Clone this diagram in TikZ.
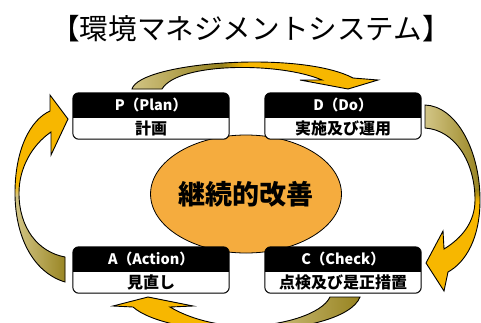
\documentclass[tikz,border=0pt]{standalone}
\usepackage{fontspec}
\newfontfamily\cjk{Noto Sans CJK JP}
\usetikzlibrary{shapes.geometric}
\definecolor{khakiL}{RGB}{214,201,140}
\definecolor{oliveD}{RGB}{150,130,30}
\definecolor{arrY}{RGB}{247,183,0}
\definecolor{ellO}{RGB}{245,172,62}
\tikzset{
  pdcabox/.style={fill=white, rounded corners=6pt, minimum width=156pt, minimum height=46pt, inner sep=0pt},
  hdrtext/.style={text=white, font=\cjk\bfseries\fontsize{14.5}{16}\selectfont, inner sep=0pt},
  subtext/.style={text=black, font=\cjk\bfseries\fontsize{16}{18}\selectfont, inner sep=0pt},
  arrowline/.style={draw=black, line width=0.9pt, line join=miter},
  boxline/.style={draw=black, line width=1pt, rounded corners=6pt},
}
\newcommand\TopArrowPath{(132,89) .. controls (140,62) and (300,50) .. (353,78) -- (378,80) -- (348,89) -- (300,80) -- (322,80) .. controls (280,62) and (178,62) .. (162,89) -- cycle}
\newcommand\RightArrowPath{(425,105) .. controls (456,106) and (480,150) .. (480,200) .. controls (480,238) and (466,262) .. (448,272) -- (444,291) -- (426,263) -- (443,231) -- (444,249) .. controls (462,238) and (475,222) .. (475,200) .. controls (475,162) and (455,130) .. (425,128) -- cycle}
\newcommand\BottomArrowPath{(360,297) .. controls (352,318) and (300,331) .. (240,331) .. controls (195,331) and (150,322) .. (133,307) -- (113,306) -- (148,297) -- (193,306) -- (170,307) .. controls (190,319) and (218,326) .. (245,326) .. controls (282,326) and (322,314) .. (330,297) -- cycle}
\newcommand\LeftArrowPath{(65,282) .. controls (32,272) and (15,235) .. (15,193) .. controls (15,150) and (30,120) .. (50,111) -- (50,95) -- (68,119) -- (51,155) -- (51,132) .. controls (32,145) and (19,168) .. (19,193) .. controls (19,228) and (38,252) .. (65,257) -- cycle}
\newcommand\PDCAbox[5]{%
  \node[pdcabox] (#1) at (#2,#3) {};
  \begin{scope}
    \clip[rounded corners=6pt] (#1.north west) rectangle (#1.south east);
    \fill[black] (#1.north west) rectangle ([yshift=-25pt]#1.north east);
  \end{scope}
  \draw[boxline] (#1.north west) rectangle (#1.south east);
  \node[hdrtext] (#1h) at ([yshift=-12.5pt]#1.north) {#4};
  \node[subtext] (#1s) at ([yshift=10.5pt]#1.south) {#5};
}
\begin{document}
\begin{tikzpicture}[x=1pt, y=-1pt]
\useasboundingbox (0,0) rectangle (481,322);
\begin{scope}
\clip (0,0) rectangle (481,322);
\node[font=\cjk\fontsize{28.6}{32}\selectfont, inner sep=0pt] (T) at (251,29) {【環境マネジメントシステム】};
% top arrow
\begin{scope}
  \clip \TopArrowPath;
  \fill[arrY] (110,40) rectangle (390,100);
  \shade[left color=khakiL, right color=oliveD] (125,40) rectangle (222,100);
  \shade[left color=oliveD, right color=arrY] (221.5,40) rectangle (244,100);
\end{scope}
\draw[arrowline] \TopArrowPath;
% right arrow
\begin{scope}
  \clip \RightArrowPath;
  \fill[arrY] (415,95) rectangle (485,300);
  \shade[left color=khakiL, right color=oliveD] (422,100) rectangle (482,190);
  \shade[top color=oliveD, bottom color=arrY] (422,189.5) rectangle (482,202);
\end{scope}
\draw[arrowline] \RightArrowPath;
% bottom arrow
\begin{scope}
  \clip \BottomArrowPath;
  \fill[arrY] (105,290) rectangle (365,340);
  \shade[left color=arrY, right color=khakiL] (236,290) rectangle (252,340);
  \shade[left color=khakiL, right color=oliveD] (251.5,290) rectangle (362,340);
\end{scope}
\draw[arrowline] \BottomArrowPath;
% left arrow
\begin{scope}
  \clip \LeftArrowPath;
  \fill[arrY] (10,90) rectangle (72,290);
  \shade[top color=arrY, bottom color=khakiL] (12,184) rectangle (70,196.5);
  \shade[left color=khakiL, right color=oliveD] (12,196) rectangle (68,290);
\end{scope}
\draw[arrowline] \LeftArrowPath;
% centre ellipse
\node[ellipse, draw=black, line width=0.8pt, fill=ellO, minimum width=188pt, minimum height=118pt, inner sep=0pt,
      font=\cjk\bfseries\fontsize{27}{30}\selectfont] (E) at (246,194) {継続的改善};
% boxes
\PDCAbox{P}{151}{116}{P（Plan）}{計画}
\PDCAbox{D}{343}{116}{D（Do）}{実施及び運用}
\PDCAbox{A}{151}{270}{A（Action）}{見直し}
\PDCAbox{C}{343}{270}{C（Check）}{点検及び是正措置}
\end{scope}
\end{tikzpicture}
\end{document}
